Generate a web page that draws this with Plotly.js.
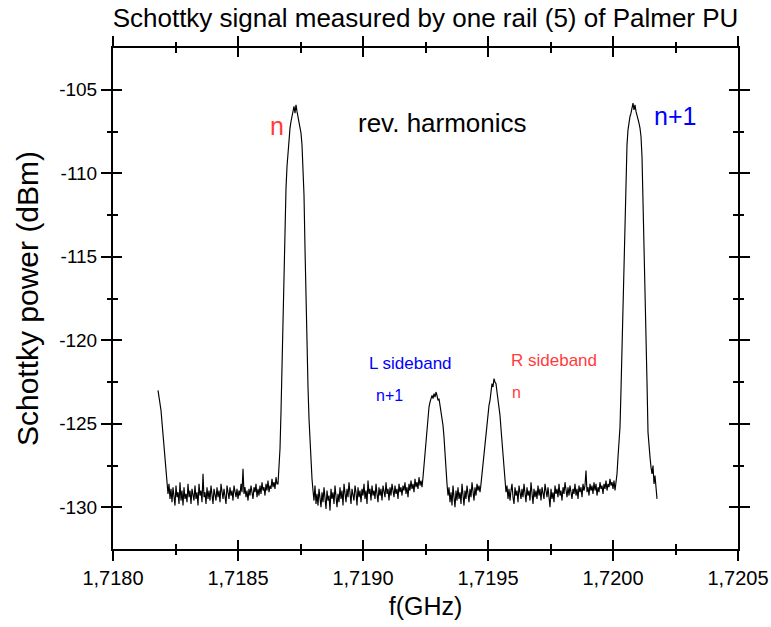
<!DOCTYPE html>
<html>
<head>
<meta charset="utf-8">
<script src="https://cdn.plot.ly/plotly-3.0.1.min.js"></script>
<style>html,body{margin:0;padding:0;background:#fff;}#chart{width:771px;height:627px;}</style>
</head>
<body>
<div id="chart"></div>
<script>
// Sweep grid of the spectrum analyser (GHz)
const fStartGHz = 1.71818;
const fStepGHz = 0.000004;

// Measured Schottky power (dBm), one value per sweep point
const powerDbm = [
// start edge
-123.0,-123.3,-123.8,-124.2,-124.9,-125.8,-126.5,-127.4,-128.2,-128.9,
// noise floor
-129.2,-128.6,-129.5,-128.9,-129.7,-128.8,-129.3,-129.9,-128.7,-129.4,
-129.1,-129.8,-128.5,-129.6,-129.0,-129.9,-128.8,-129.5,-129.2,-129.7,
-128.6,-129.4,-129.0,-129.8,-128.9,-129.3,-129.6,-128.7,-129.5,-129.1,
-129.9,-128.6,-129.3,-129.0,-129.7,-128.0,-129.4,-129.1,-129.8,-128.8,
-129.5,-129.0,-129.6,-128.7,-129.3,-129.8,-128.9,-129.2,-129.6,-128.8,
-129.4,-129.0,-129.7,-128.6,-129.2,-129.5,-128.9,-129.3,-129.8,-128.7,
-129.1,-129.5,-128.8,-129.3,-129.0,-129.6,-128.7,-129.2,-129.4,-128.9,
-129.5,-129.0,-129.3,-128.6,-129.1,-127.7,-129.2,-128.8,-129.4,-129.0,
-129.6,-128.9,-129.3,-128.7,-129.2,-129.5,-128.8,-129.1,-128.6,-129.4,
-128.9,-129.3,-128.7,-129.2,-128.5,-129.0,-128.8,-129.3,-128.6,-129.0,
-128.4,-129.1,-128.7,-128.9,-128.3,-128.8,-128.5,-128.9,-128.2,-128.6,
// revolution harmonic n
-128.6,-127.8,-126.5,-124.3,-121.3,-118.0,-115.5,-112.8,-110.9,-109.6,
-108.6,-107.8,-107.3,-106.9,-106.5,-106.2,-106.0,-106.4,-105.9,-106.3,
-106.6,-106.9,-107.2,-107.6,-108.3,-109.5,-111.3,-114.5,-118.0,-120.5,
-122.8,-124.7,-126.3,-127.5,-128.3,
// noise floor
-129.0,-129.6,-128.7,-129.8,-129.2,-129.9,-128.9,-129.5,-130.0,-129.1,
-129.7,-128.8,-129.4,-130.1,-129.0,-129.6,-129.3,-130.2,-128.9,-129.5,
-129.1,-129.8,-128.7,-129.4,-130.0,-129.2,-129.7,-128.8,-129.5,-129.0,
-129.9,-128.6,-129.3,-129.7,-128.9,-129.4,-128.5,-129.2,-129.8,-128.9,
-129.3,-129.6,-128.7,-129.1,-129.9,-128.8,-129.4,-129.0,-129.7,-128.9,
-129.3,-128.6,-129.5,-129.0,-129.8,-128.4,-129.2,-128.9,-129.6,-128.7,
-129.3,-129.0,-129.5,-128.6,-129.2,-129.7,-128.8,-129.3,-128.9,-129.6,
-128.7,-129.1,-129.4,-128.5,-129.2,-128.9,-129.6,-128.8,-129.3,-128.6,
-129.0,-129.4,-128.7,-129.2,-128.9,-129.5,-128.6,-129.1,-128.8,-129.3,
-128.7,-129.0,-128.5,-129.2,-128.8,-129.4,-128.6,-129.0,-128.4,-128.9,
-128.6,-129.1,-128.3,-128.8,-128.5,-128.9,-128.2,-128.7,-128.4,
// L sideband (n+1)
-128.8,-128.2,-127.5,-126.7,-125.8,-125.2,-124.6,-124.0,-123.7,-123.5,
-123.3,-123.5,-123.2,-123.4,-123.1,-123.3,-123.6,-123.5,-123.9,-124.1,
-124.6,-125.1,-125.8,-126.9,-127.8,-128.6,
// noise floor
-129.3,-128.8,-129.7,-129.1,-129.9,-128.7,-129.4,-130.0,-129.0,-129.6,
-128.8,-129.5,-129.1,-129.8,-128.6,-129.3,-129.9,-129.0,-129.5,-128.7,
-129.2,-129.7,-128.9,-129.4,-128.5,-129.1,-129.6,-128.8,-129.3,-128.6,
-129.0,-128.7,-129.1,
// R sideband (n)
-128.6,-128.0,-127.5,-126.9,-126.3,-125.8,-125.0,-124.3,-123.9,-123.6,
-123.0,-122.6,-122.8,-122.3,-122.5,-122.6,-123.1,-123.5,-123.9,-124.5,
-125.3,-126.0,-127.0,-127.8,-128.5,
// noise floor
-129.1,-128.7,-129.5,-128.9,-129.6,-129.0,-128.6,-129.4,-129.8,-128.8,
-129.3,-129.0,-129.7,-128.7,-129.2,-129.5,-128.9,-129.4,-128.6,-129.1,
-129.7,-128.8,-129.3,-129.0,-129.6,-128.5,-129.2,-129.8,-128.9,-129.4,
-129.0,-129.5,-128.7,-129.3,-128.9,-129.6,-128.8,-129.2,-129.5,-128.6,
-129.1,-129.4,-128.8,-129.3,-130.0,-128.9,-129.5,-129.1,-129.7,-128.7,
-129.2,-128.9,-129.4,-128.6,-129.3,-129.0,-129.6,-128.8,-129.2,-128.5,
-129.1,-129.4,-128.8,-129.3,-128.7,-129.0,-129.5,-128.9,-129.2,-128.6,
-129.3,-128.9,-129.5,-128.7,-129.1,-128.8,-129.4,-128.6,-129.0,-128.7,
-127.8,-129.1,-128.8,-129.3,-128.6,-129.0,-128.7,-129.2,-128.5,-129.0,
-128.6,-129.3,-128.8,-129.1,-128.5,-128.9,-128.7,-129.2,-128.6,-128.9,
-128.4,-129.0,-128.6,-128.8,-128.3,-128.7,-128.5,-128.9,-128.4,
// revolution harmonic n+1 and end of sweep
-129.0,-128.6,-128.0,-127.0,-126.2,-125.2,-123.0,-120.5,-117.0,-114.0,
-111.5,-109.8,-108.3,-107.4,-106.9,-106.6,-106.4,-106.1,-105.8,-106.2,
-105.9,-106.3,-106.5,-106.7,-107.0,-107.3,-107.8,-109.0,-111.5,-114.0,
-116.0,-119.0,-122.5,-125.5,-126.5,-127.0,-127.6,-128.0,-127.5,-128.6,
-128.1,-129.0,-129.5
];

// Axis ticks
const xTickVals = [1.7180, 1.7185, 1.7190, 1.7195, 1.7200, 1.7205];
const xTickText = ['1,7180', '1,7185', '1,7190', '1,7195', '1,7200', '1,7205'];
const yTickVals = [-130, -125, -120, -115, -110, -105];
const yTickText = ['-130', '-125', '-120', '-115', '-110', '-105'];
const xMinorVals = [1.71825, 1.71875, 1.71925, 1.71975, 1.72025];
const yMinorVals = [-127.5, -122.5, -117.5, -112.5, -107.5];

// Labels placed in the plot
const labelText  = ['n', 'rev. harmonics', 'n+1', 'L sideband', 'n+1', 'R sideband', 'n'];
const labelX     = [1.718656, 1.719316, 1.720248, 1.719188, 1.719104, 1.719764, 1.719612];
const labelY     = [-107.2, -107.0, -106.6, -121.4, -123.3, -121.2, -123.15];
const labelColor = ['#ff3c3c', '#000000', '#0000ff', '#0000ff', '#0000ff', '#ff3c3c', '#ff3c3c'];
const labelSize  = [25, 26, 25, 17, 16, 17, 16];

const freqGHz = powerDbm.map((_, i) => fStartGHz + i * fStepGHz);

const FONT = 'Liberation Sans, Arial, sans-serif';

const ghost = {type: 'scatter', mode: 'lines', line: {color: 'rgba(0,0,0,0)', width: 0},
               showlegend: false, hoverinfo: 'skip'};

const traces = [
  {
    x: freqGHz, y: powerDbm, type: 'scatter', mode: 'lines',
    line: {color: '#000000', width: 1.15}, showlegend: false, hoverinfo: 'x+y'
  },
  // transparent copies on coincident subplots whose axes carry the other parts of the crossing ticks
  Object.assign({x: freqGHz, y: powerDbm, xaxis: 'x2', yaxis: 'y2'}, ghost),
  Object.assign({x: freqGHz, y: powerDbm, xaxis: 'x3', yaxis: 'y3'}, ghost),
  Object.assign({x: freqGHz, y: powerDbm, xaxis: 'x4', yaxis: 'y4'}, ghost)
];

const xr = [1.7180, 1.7205];
const yr = [-132.5, -102.5];

function tickAxis(range, anchor, vals, side, len) {
  return {range: range, domain: [0, 1], anchor: anchor, tickmode: 'array', tickvals: vals,
          ticks: side, ticklen: len, tickwidth: 2, tickcolor: '#000', mirror: 'allticks',
          showticklabels: false, showline: false, showgrid: false, zeroline: false};
}

const layout = {
  width: 771, height: 627,
  margin: {l: 113, r: 33, t: 48, b: 78},
  paper_bgcolor: '#fff', plot_bgcolor: 'rgba(0,0,0,0)',
  font: {family: FONT, color: '#000'},
  showlegend: false,
  title: {
    text: 'Schottky signal measured by one rail (5) of Palmer PU',
    font: {family: FONT, size: 26, color: '#000'},
    x: 0.5, xref: 'paper', xanchor: 'center', y: 0.971, yref: 'container', yanchor: 'middle'
  },
  // frame, outer major ticks, tick labels and titles
  xaxis: {
    range: xr, domain: [0, 1], anchor: 'y', tickmode: 'array', tickvals: xTickVals, ticktext: xTickText,
    ticks: 'outside', ticklen: 10, tickwidth: 2, tickcolor: '#000', mirror: 'allticks',
    showline: true, linewidth: 2, linecolor: '#000', showgrid: false, zeroline: false,
    tickfont: {family: FONT, size: 20, color: '#000'},
    title: {text: 'f(GHz)', font: {family: FONT, size: 25, color: '#000'}, standoff: 9}
  },
  yaxis: {
    range: yr, domain: [0, 1], anchor: 'x', tickmode: 'array', tickvals: yTickVals, ticktext: yTickText,
    ticks: 'outside', ticklen: 10, tickwidth: 2, tickcolor: '#000', mirror: 'allticks',
    showline: true, linewidth: 2, linecolor: '#000', showgrid: false, zeroline: false,
    tickfont: {family: FONT, size: 19, color: '#000'},
    title: {text: 'Schottky power (dBm)', font: {family: FONT, size: 30, color: '#000'}, standoff: 12}
  },
  // inner major ticks
  xaxis2: tickAxis(xr, 'y2', xTickVals, 'inside', 9),
  yaxis2: tickAxis(yr, 'x2', yTickVals, 'inside', 9),
  // outer minor ticks
  xaxis3: tickAxis(xr, 'y3', xMinorVals, 'outside', 5),
  yaxis3: tickAxis(yr, 'x3', yMinorVals, 'outside', 5),
  // inner minor ticks
  xaxis4: tickAxis(xr, 'y4', xMinorVals, 'inside', 5),
  yaxis4: tickAxis(yr, 'x4', yMinorVals, 'inside', 5),
  annotations: labelText.map((t, i) => ({
    text: t, x: labelX[i], y: labelY[i], xref: 'x', yref: 'y',
    showarrow: false, xanchor: 'center', yanchor: 'middle',
    font: {family: FONT, size: labelSize[i], color: labelColor[i]}
  }))
};

Plotly.newPlot('chart', traces, layout, {displayModeBar: false, staticPlot: true});
</script>
</body>
</html>
